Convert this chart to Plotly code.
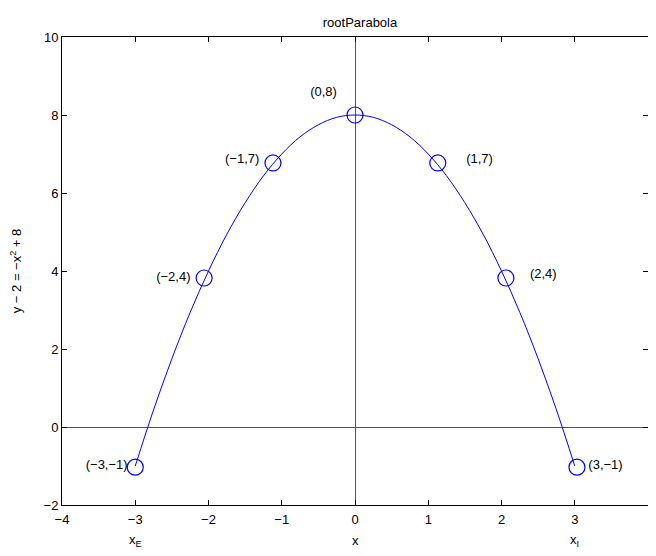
import plotly.graph_objects as go

# curve
curve_x = [-3.0, -2.75, -2.5, -2.25, -2.0, -1.75, -1.5, -1.25, -1.0, -0.75, -0.5, -0.25, 0.0,
           0.25, 0.5, 0.75, 1.0, 1.25, 1.5, 1.75, 2.0, 2.25, 2.5, 2.75, 3.0]
curve_y = [-1.0, 0.44, 1.75, 2.94, 4.0, 4.94, 5.75, 6.44, 7.0, 7.44, 7.75, 7.94, 8.0,
           7.94, 7.75, 7.44, 7.0, 6.44, 5.75, 4.94, 4.0, 2.94, 1.75, 0.44, -1.0]

# circle markers
mark_x = [-3.0, -2.06, -1.12, 0.0, 1.13, 2.06, 3.03]
mark_y = [-1.03, 3.82, 6.77, 8.0, 6.77, 3.82, -1.03]

# point labels
label_text = ["(−3,−1)", "(−2,4)", "(−1,7)", "(0,8)", "(1,7)", "(2,4)", "(3,−1)"]
label_x = [-3.39, -2.48, -1.54, -0.43, 1.70, 2.57, 3.42]
label_y = [-1.0, 3.82, 6.85, 8.56, 6.85, 3.9, -1.0]

x_ticks = [-4, -3, -2, -1, 0, 1, 2, 3, 4]
y_ticks = [-2, 0, 2, 4, 6, 8, 10]

# labels under the x axis
under_x = [-3, 0, 3]
under_text = ["x<sub>E</sub>", "x", "x<sub>I</sub>"]

FONT = "Liberation Sans, Arial, Helvetica, sans-serif"

fig = go.Figure()
fig.add_trace(go.Scatter(x=curve_x, y=curve_y, mode="lines",
                         line=dict(color="#0000ff", width=1, shape="spline"),
                         hoverinfo="skip"))
fig.add_trace(go.Scatter(x=mark_x, y=mark_y, mode="markers",
                         marker=dict(symbol="circle-open", size=16, color="#0000ff",
                                     line=dict(width=1.2, color="#0000ff")),
                         hoverinfo="skip"))
fig.add_trace(go.Scatter(x=label_x, y=label_y, mode="text", text=label_text,
                         textfont=dict(family=FONT, size=13, color="black"),
                         hoverinfo="skip"))

for xv, t in zip(under_x, under_text):
    fig.add_annotation(x=xv, y=-0.075, xref="x", yref="paper", text=t, showarrow=False,
                       font=dict(family=FONT, size=13, color="black"), yanchor="middle")

axis_common = dict(
    showgrid=False, zeroline=True, zerolinecolor="#555555", zerolinewidth=1,
    showline=True, linecolor="black", linewidth=1, mirror="allticks",
    ticks="inside", ticklen=5, tickcolor="black",
    tickfont=dict(family=FONT, size=13, color="black"),
)

fig.update_xaxes(range=[-4, 4], tickvals=x_ticks,
                 ticktext=[str(v).replace("-", "−") for v in x_ticks],
                 ticklabelstandoff=2,
                 **axis_common)
fig.update_yaxes(range=[-2, 10], tickvals=y_ticks,
                 ticktext=[str(v).replace("-", "−") for v in y_ticks],
                 title=dict(text="y − 2 = −x<sup>2</sup> + 8",
                            font=dict(family=FONT, size=13, color="black"), standoff=21),
                 **axis_common)

fig.update_layout(
    width=640, height=540,
    margin=dict(l=54, r=0, t=29, b=43),
    paper_bgcolor="white", plot_bgcolor="white",
    showlegend=False,
    title=dict(text="rootParabola", x=0.55, xanchor="center", y=0.974, yanchor="middle",
               font=dict(family=FONT, size=13, color="black")),
)

fig.write_html("out.html")
